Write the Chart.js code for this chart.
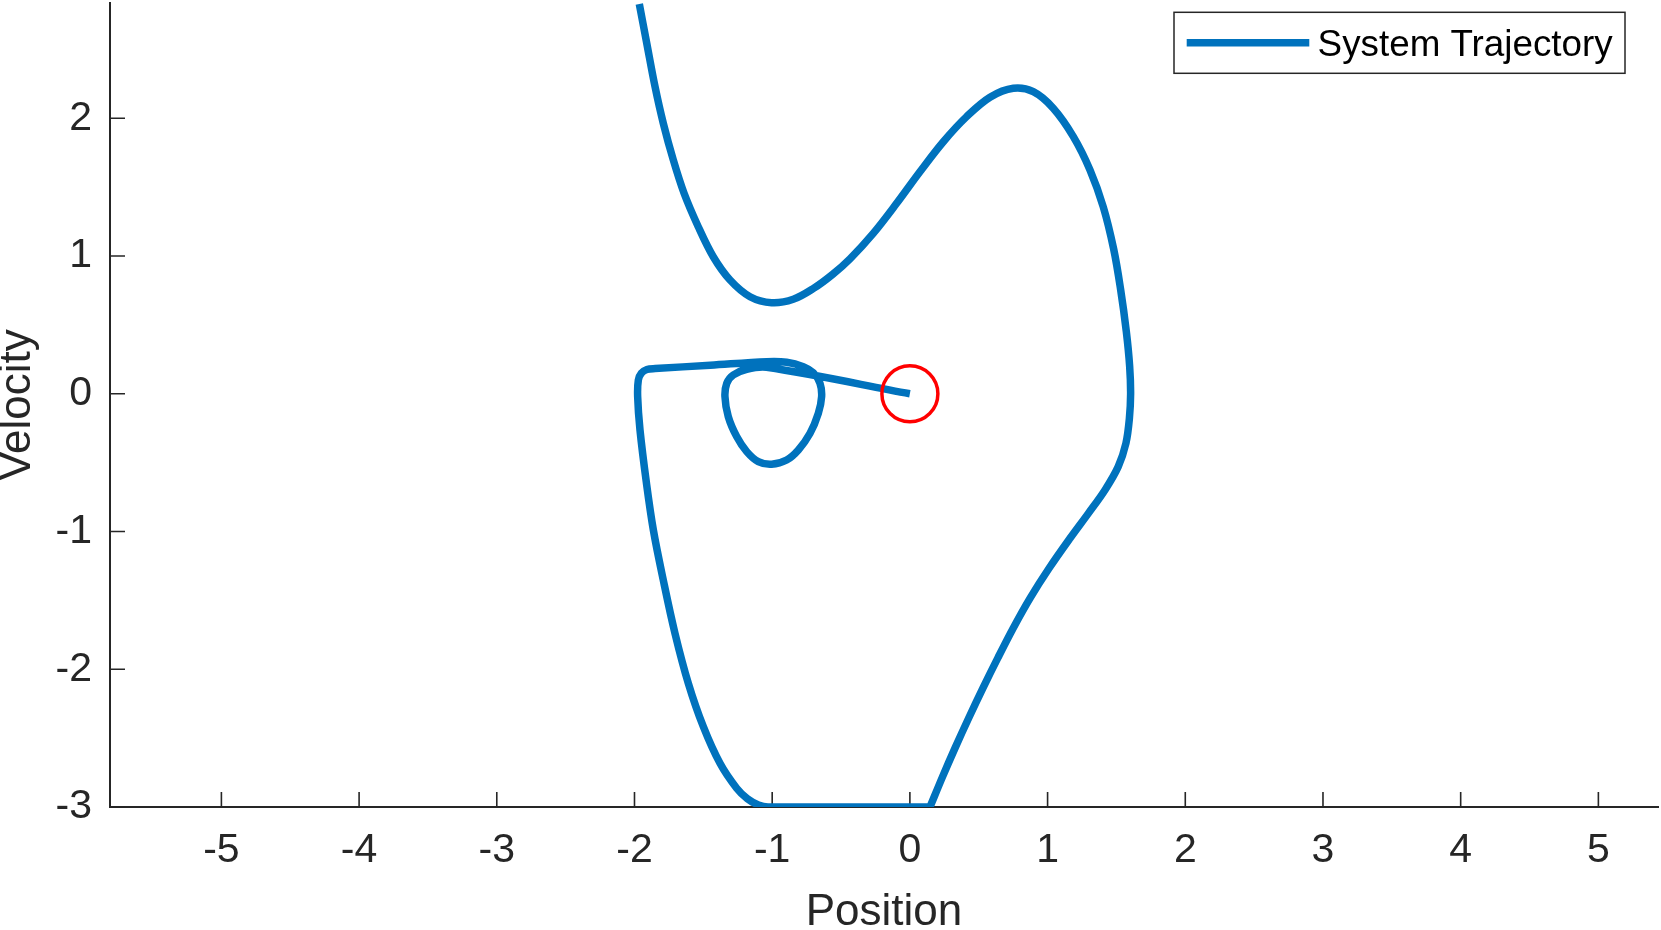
<!DOCTYPE html>
<html>
<head>
<meta charset="utf-8">
<script src="https://cdn.jsdelivr.net/npm/chart.js@4.4.1/dist/chart.umd.min.js"></script>
<style>
html,body{margin:0;padding:0;background:#fff;}
#wrap{width:1661px;height:930px;position:relative;}
</style>
</head>
<body>
<div id="wrap"><canvas id="c"></canvas></div>
<script>
// ---- data ----
const trajPosition = [
  -1.965, -1.911, -1.851, -1.791, -1.718, -1.640, -1.537, -1.428, -1.306, -1.161,
  -1.004, -0.847, -0.700, -0.560, -0.435, -0.266, -0.096, 0.073, 0.243, 0.412,
  0.582, 0.751, 0.896, 1.041, 1.187, 1.308, 1.404, 1.480, 1.530, 1.572,
  1.596, 1.603, 1.594, 1.569, 1.513, 1.417, 1.296, 1.163, 1.012, 0.872,
  0.751, 0.639, 0.532, 0.429, 0.330, 0.236, 0.146, 0.146, -1.030, -1.100,
  -1.180, -1.258, -1.379, -1.500, -1.609, -1.706, -1.791, -1.863, -1.913, -1.960,
  -1.977, -1.972, -1.950, -1.910, -1.850, -1.450, -1.040, -0.895, -0.774, -0.702,
  -0.653, -0.641, -0.665, -0.725, -0.810, -0.895, -1.004, -1.101, -1.185, -1.258,
  -1.319, -1.343, -1.330, -1.283, -1.185, -1.040, 0.000
];
const trajVelocity = [
  2.830, 2.545, 2.230, 1.964, 1.697, 1.456, 1.213, 0.995, 0.826, 0.705,
  0.661, 0.686, 0.765, 0.868, 0.980, 1.165, 1.383, 1.612, 1.830, 2.012,
  2.153, 2.218, 2.193, 2.073, 1.867, 1.625, 1.358, 1.050, 0.760, 0.450,
  0.200, 0.000, -0.180, -0.359, -0.529, -0.698, -0.868, -1.049, -1.265, -1.485,
  -1.700, -1.917, -2.133, -2.350, -2.567, -2.783, -3.000, -3.000, -3.000, -2.985,
  -2.940, -2.864, -2.683, -2.417, -2.102, -1.739, -1.352, -0.989, -0.650, -0.263,
  -0.021, 0.100, 0.150, 0.176, 0.183, 0.207, 0.233, 0.229, 0.197, 0.153,
  0.076, -0.021, -0.142, -0.287, -0.408, -0.481, -0.512, -0.493, -0.420, -0.311,
  -0.166, -0.021, 0.076, 0.136, 0.178, 0.192, 0.000
];
const targetPosition = [0];
const targetVelocity = [0];
const xTicks = [-5, -4, -3, -2, -1, 0, 1, 2, 3, 4, 5];
const yTicks = [-3, -2, -1, 0, 1, 2];
const xRange = [-5.809, 5.433];
const yRange = [-3, 2.837];
const seriesLabel = 'System Trajectory';
const xTitle = 'Position';
const yTitle = 'Velocity';

// ---- drawing ----
const FONT = '"Liberation Sans", Arial, Helvetica, sans-serif';
Chart.defaults.font.family = FONT;
const AXIS_COLOR = '#262626';

const inwardTicks = {
  id: 'inwardTicks',
  beforeDatasetsDraw(chart) {
    const {ctx, chartArea, scales} = chart;
    ctx.save();
    ctx.strokeStyle = AXIS_COLOR;
    ctx.lineWidth = 1.6;
    ctx.beginPath();
    scales.x.ticks.forEach(t => {
      const px = scales.x.getPixelForValue(t.value);
      ctx.moveTo(px, chartArea.bottom);
      ctx.lineTo(px, chartArea.bottom - 15);
    });
    scales.y.ticks.forEach(t => {
      const py = scales.y.getPixelForValue(t.value);
      ctx.moveTo(chartArea.left, py);
      ctx.lineTo(chartArea.left + 15, py);
    });
    ctx.stroke();
    ctx.restore();
  }
};

const boxLegend = {
  id: 'boxLegend',
  afterDraw(chart) {
    const ds = chart.data.datasets[0];
    const {ctx, chartArea} = chart;
    const w = 451, h = 61;
    const right = chartArea.right - 33;
    const top = chartArea.top + 9.3;
    const left = right - w;
    ctx.save();
    ctx.fillStyle = '#ffffff';
    ctx.fillRect(left, top, w, h);
    ctx.strokeStyle = AXIS_COLOR;
    ctx.lineWidth = 1.5;
    ctx.strokeRect(left, top, w, h);
    ctx.strokeStyle = ds.borderColor;
    ctx.lineWidth = ds.borderWidth;
    ctx.beginPath();
    ctx.moveTo(left + 12.7, top + 30.4);
    ctx.lineTo(left + 135.3, top + 30.4);
    ctx.stroke();
    ctx.fillStyle = '#000000';
    ctx.font = '36.8px ' + FONT;
    ctx.textBaseline = 'alphabetic';
    ctx.textAlign = 'left';
    ctx.fillText(ds.label, left + 143.6, top + 43.7);
    ctx.restore();
  }
};

const tickFont = {size: 41, family: FONT};
const titleFont = {size: 44, family: FONT, lineHeight: 0.8};
const zeroPad = s => { s.paddingTop = 0; s.paddingBottom = 0; s.paddingLeft = 0; s.paddingRight = 0; };

new Chart(document.getElementById('c'), {
  type: 'scatter',
  data: {
    datasets: [
      {
        label: seriesLabel,
        data: trajPosition.map((x, i) => ({x: x, y: trajVelocity[i]})),
        showLine: true,
        borderColor: '#0072BD',
        backgroundColor: '#0072BD',
        borderWidth: 7.5,
        borderJoinStyle: 'round',
        pointRadius: 0,
        pointHoverRadius: 0,
        tension: 0.35,
        fill: false,
        order: 1
      },
      {
        label: 'Target',
        data: targetPosition.map((x, i) => ({x: x, y: targetVelocity[i]})),
        showLine: false,
        pointRadius: 28,
        pointHoverRadius: 28,
        pointBorderWidth: 3.5,
        pointBorderColor: '#FF0000',
        pointBackgroundColor: 'rgba(0,0,0,0)',
        order: 0
      }
    ]
  },
  options: {
    responsive: true,
    maintainAspectRatio: false,
    animation: false,
    events: [],
    layout: {autoPadding: false, padding: {top: 3, right: 3, left: 0, bottom: 0}},
    plugins: {legend: {display: false}, tooltip: {enabled: false}},
    scales: {
      x: {
        type: 'linear',
        position: 'bottom',
        min: xRange[0],
        max: xRange[1],
        afterBuildTicks: s => { s.ticks = xTicks.map(v => ({value: v})); },
        afterFit: s => { s.height = 123; zeroPad(s); },
        grid: {display: false, drawTicks: false},
        border: {display: true, color: AXIS_COLOR, width: 2},
        ticks: {font: tickFont, color: AXIS_COLOR, padding: 19, maxRotation: 0, minRotation: 0, autoSkip: false},
        title: {display: true, text: xTitle, color: AXIS_COLOR, font: titleFont, padding: {top: 0, bottom: 0}}
      },
      y: {
        type: 'linear',
        position: 'left',
        min: yRange[0],
        max: yRange[1],
        afterBuildTicks: s => { s.ticks = yTicks.map(v => ({value: v})); },
        afterFit: s => { s.width = 110; zeroPad(s); },
        grid: {display: false, drawTicks: false},
        border: {display: true, color: AXIS_COLOR, width: 2},
        ticks: {font: tickFont, color: AXIS_COLOR, padding: 18, autoSkip: false},
        title: {display: true, text: yTitle, color: AXIS_COLOR, font: titleFont, padding: {top: 0, bottom: 0}}
      }
    }
  },
  plugins: [inwardTicks, boxLegend]
});
</script>
</body>
</html>
